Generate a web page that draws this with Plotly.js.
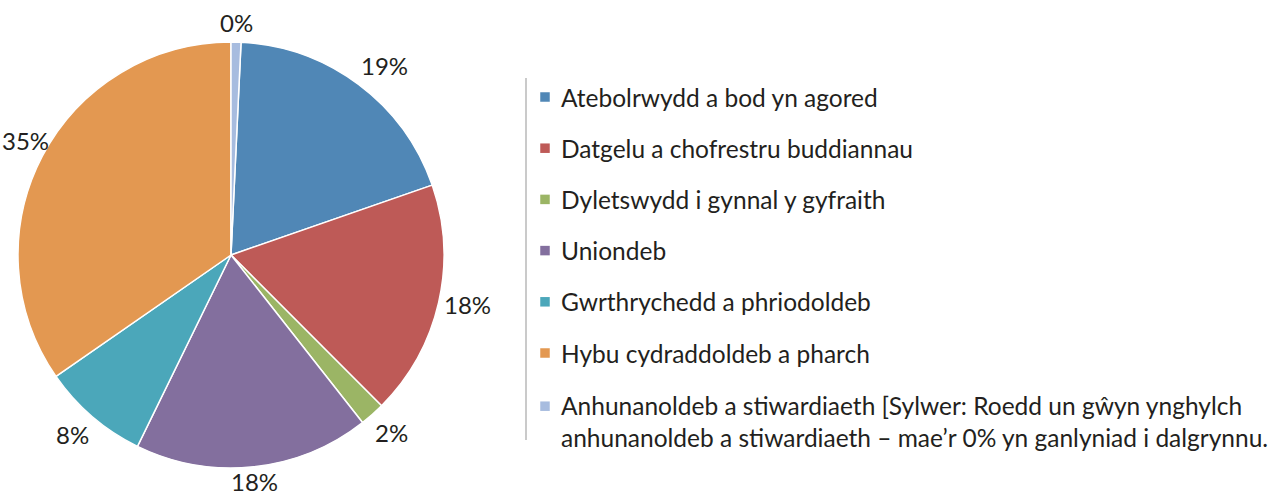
<!DOCTYPE html>
<html>
<head>
<meta charset="utf-8">
<script src="https://cdn.plot.ly/plotly-3.0.1.min.js"></script>
<style>html,body{margin:0;padding:0;background:#fff;}#chart{width:1275px;height:495px;}</style>
</head>
<body>
<div id="chart"></div>
<script>
var categories = [
  "Atebolrwydd a bod yn agored",
  "Datgelu a chofrestru buddiannau",
  "Dyletswydd i gynnal y gyfraith",
  "Uniondeb",
  "Gwrthrychedd a phriodoldeb",
  "Hybu cydraddoldeb a pharch",
  "Anhunanoldeb a stiwardiaeth [Sylwer: Roedd un gŵyn ynghylch<br>anhunanoldeb a stiwardiaeth – mae’r 0% yn ganlyniad i dalgrynnu."
];
var shares = [18.9, 17.8, 1.9, 17.8, 8.1, 34.6, 0.75];
var pctLabels = ["19%", "18%", "2%", "18%", "8%", "35%", "0%"];
var colors = ["#5087B6", "#BE5A57", "#9BB565", "#836F9E", "#4BA7BA", "#E39851", "#A7BCDF"];

var W = 1275, H = 495;
var FONT = "Lato, 'Open Sans', sans-serif";
var TXT = "#231F20";
var total = shares.reduce(function(a, b){ return a + b; }, 0);
var rotation = shares[shares.length - 1] / total * 360;

// pie geometry (pixels)
var pieLeft = 18, pieRight = 444, pieTop = 42, pieBottom = 468;
var cx = (pieLeft + pieRight) / 2, cy = (pieTop + pieBottom) / 2, R = (pieBottom - pieTop) / 2;

var trace = {
  type: "pie",
  labels: categories,
  values: shares,
  textinfo: "none",
  sort: false,
  direction: "clockwise",
  rotation: rotation,
  marker: {colors: colors, line: {color: "#ffffff", width: 1.5}},
  domain: {x: [pieLeft / W, pieRight / W], y: [1 - pieBottom / H, 1 - pieTop / H]},
  hoverinfo: "label+percent",
  showlegend: false
};

var annotations = [];
var shapes = [];

// percentage labels placed outside each slice, at the slice's mid-angle
var cum = rotation;
var fs = 24;
shares.forEach(function(v, i) {
  var span = v / total * 360;
  var mid = (cum + span / 2) * Math.PI / 180;
  cum += span;
  var s = Math.sin(mid), c = Math.cos(mid);
  var px = cx + (R + 8) * s, py = cy - (R + 8) * c;
  var w = pctLabels[i].length * 0.6 * fs, h = fs;
  var bx = s > 0.35 ? px + w / 2 : (s < -0.35 ? px - w / 2 : px);
  var by = c > 0.35 ? py - h / 2 : (c < -0.35 ? py + h / 2 : py);
  bx = Math.max(4 + w / 2, Math.min(W - 4 - w / 2, bx));
  by = Math.max(2 + h / 2, Math.min(H - 2 - h / 2, by));
  annotations.push({
    xref: "paper", yref: "paper", x: bx / W, y: 1 - by / H,
    xanchor: "center", yanchor: "middle", showarrow: false,
    text: pctLabels[i], font: {family: FONT, size: fs, color: TXT}
  });
});

// legend drawn as colour squares and text rows
var legX = 545, legY0 = 97, legStep = 51.2, sq = 9.5, legFs = 24.5;
categories.forEach(function(cat, i) {
  var y = legY0 + i * legStep + (i === categories.length - 1 ? 2 : 0);
  shapes.push({
    type: "rect", xref: "paper", yref: "paper",
    x0: (legX - sq / 2) / W, x1: (legX + sq / 2) / W,
    y0: 1 - (y - sq / 2) / H, y1: 1 - (y + sq / 2) / H,
    fillcolor: colors[i], line: {width: 0}
  });
  var multi = cat.indexOf("<br>") >= 0;
  annotations.push({
    xref: "paper", yref: "paper", x: 559 / W,
    y: multi ? 1 - (y - 17) / H : 1 - y / H,
    xanchor: "left", yanchor: multi ? "top" : "middle", align: "left",
    showarrow: false, text: cat,
    font: {family: FONT, size: legFs, color: TXT}
  });
});

shapes.push({
  type: "line", xref: "paper", yref: "paper",
  x0: 526 / W, x1: 526 / W, y0: 1 - 78 / H, y1: 1 - 440 / H,
  line: {color: "#B8B8B8", width: 1.5}
});

var layout = {
  width: W, height: H,
  margin: {l: 0, r: 0, t: 0, b: 0},
  paper_bgcolor: "#ffffff",
  showlegend: false,
  font: {family: FONT, color: TXT},
  annotations: annotations,
  shapes: shapes
};

Plotly.newPlot("chart", [trace], layout, {displayModeBar: false, staticPlot: true});
</script>
</body>
</html>
